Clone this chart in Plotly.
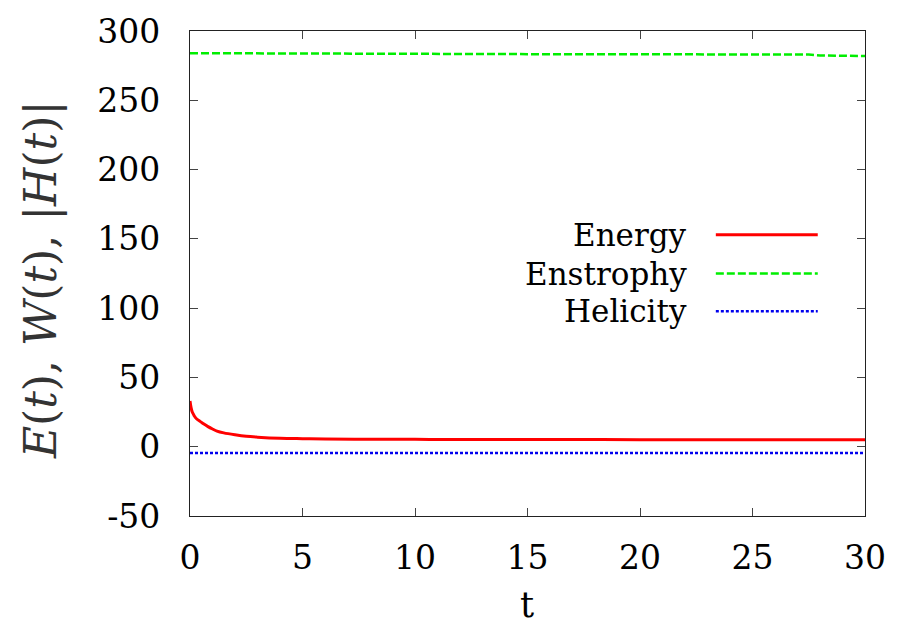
import plotly.graph_objects as go

# ---- data ----
t_energy = [0, 0.05, 0.1, 0.15, 0.2, 0.3, 0.45, 0.6, 0.8, 1.0, 1.2, 1.5, 2.0, 2.5, 3.0, 4.0, 5.0, 6.0, 8.0, 10.0, 12.0, 15.0, 20.0, 25.0, 30.0]
energy   = [33.0, 28.0, 25.0, 23.5, 22.0, 20.0, 18.3, 16.5, 14.5, 12.8, 11.3, 10.0, 8.6, 7.5, 6.9, 6.1, 5.8, 5.6, 5.4, 5.3, 5.2, 5.2, 5.1, 5.1, 5.1]

t_enstrophy = [0, 5, 10, 15, 20, 25, 27.5, 28.0, 30.0]
enstrophy   = [284.0, 283.6, 283.4, 283.3, 283.2, 283.1, 283.0, 282.3, 282.0]

t_helicity = [0, 10, 20, 30]
helicity   = [-4.5, -4.5, -4.5, -4.5]

series_names = ["Energy", "Enstrophy", "Helicity"]
x_ticks = [0, 5, 10, 15, 20, 25, 30]
y_ticks = [-50, 0, 50, 100, 150, 200, 250, 300]
y_tick_text = ["-50", "0", "50", "100", "150", "200", "250", "300"]

FONT = "DejaVu Serif"

fig = go.Figure()
fig.add_trace(go.Scatter(x=t_energy, y=energy, mode="lines", name=series_names[0],
                         line=dict(color="#ff0000", width=3, shape="spline")))
fig.add_trace(go.Scatter(x=t_enstrophy, y=enstrophy, mode="lines", name=series_names[1],
                         line=dict(color="#00ee00", width=2.5, dash="8px,3px")))
fig.add_trace(go.Scatter(x=t_helicity, y=helicity, mode="lines", name=series_names[2],
                         line=dict(color="#0000ee", width=2.5, dash="3px,2px")))

axis_common = dict(showline=True, linecolor="#222", linewidth=1.2, mirror="ticks",
                   ticks="inside", ticklen=8, tickwidth=1.2, tickcolor="#444",
                   showgrid=False, zeroline=False, ticklabeloverflow="allow",
                   tickfont=dict(family=FONT, size=33, color="black"))

fig.update_xaxes(range=[0, 30], tickvals=x_ticks, ticklabelstandoff=12, **axis_common)
fig.update_yaxes(range=[-50, 300], tickvals=y_ticks, ticktext=y_tick_text,
                 ticklabelstandoff=22, **axis_common)

# axis titles
fig.add_annotation(xref="paper", yref="paper", x=-0.221, y=0.486, xanchor="center", yanchor="middle",
                   textangle=-90, showarrow=False,
                   text="<i>E</i>(<i>t</i>), <i>W</i>(<i>t</i>), |<i>H</i>(<i>t</i>)|",
                   font=dict(family=FONT, size=44, color="#333"))
fig.add_annotation(xref="paper", yref="paper", x=0.499, y=-0.2286, xanchor="center", yanchor="bottom",
                   showarrow=False, text="t", font=dict(family=FONT, size=35, color="black"))

# manual legend (text right-aligned, sample line to the right)
leg_y = [0.580, 0.500, 0.422]
leg_styles = [dict(color="#ff0000", width=3), dict(color="#00ee00", width=2.5, dash="8px,3px"),
              dict(color="#0000ee", width=2.5, dash="3px,2px")]
for name, yy, st in zip(series_names, leg_y, leg_styles):
    fig.add_annotation(xref="paper", yref="paper", x=0.739, y=yy, xanchor="right", yanchor="middle",
                       showarrow=False, text=name, font=dict(family=FONT, size=31, color="black"))
    fig.add_shape(type="line", xref="paper", yref="paper", x0=0.779, x1=0.930, y0=yy, y1=yy, line=st)

fig.update_layout(width=898, height=628, showlegend=False,
                  paper_bgcolor="white", plot_bgcolor="white",
                  font=dict(family=FONT),
                  margin=dict(l=190, r=25, t=26, b=112))

fig.write_html("out.html")
